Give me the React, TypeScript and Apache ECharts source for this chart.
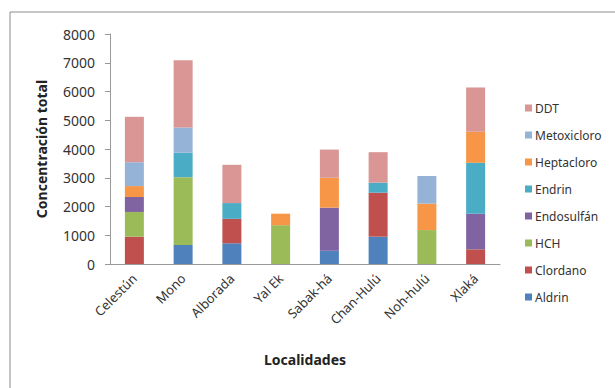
import React, { useEffect, useRef } from "react";
import * as echarts from "echarts";

const categories = ["Celestún", "Mono", "Alborada", "Yal Ek", "Sabak-há", "Chan-Hulú", "Noh-hulú", "Xlaká"];
const seriesNames = ["Aldrin", "Clordano", "HCH", "Endosulfán", "Endrin", "Heptacloro", "Metoxicloro", "DDT"];
const aldrin = [0, 660, 720, 0, 460, 950, 0, 0];
const clordano = [950, 0, 850, 0, 0, 1530, 0, 510];
const hch = [860, 2360, 0, 1350, 0, 0, 1180, 0];
const endosulfan = [520, 0, 0, 0, 1500, 0, 0, 1240];
const endrin = [0, 850, 550, 0, 0, 350, 0, 1770];
const heptacloro = [380, 0, 0, 400, 1040, 0, 920, 1080];
const metoxicloro = [830, 880, 0, 0, 0, 0, 960, 0];
const ddt = [1580, 2340, 1330, 0, 980, 1060, 0, 1540];
const colors = ["#4F81BD", "#C0504D", "#9BBB59", "#8064A2", "#4BACC6", "#F79646", "#95B3D7", "#D99694"];
const yTicks = [0, 1000, 2000, 3000, 4000, 5000, 6000, 7000, 8000];

export default function App() {
  const ref = useRef<HTMLDivElement>(null);
  useEffect(() => {
    if (!ref.current) return;
    const chart = echarts.init(ref.current, null, { renderer: "svg" });
    const values = [aldrin, clordano, hch, endosulfan, endrin, heptacloro, metoxicloro, ddt];
    const font = "'Noto Sans', sans-serif";
    chart.setOption({
      animation: false,
      backgroundColor: "#ffffff",
      graphic: [
        {
          type: "rect",
          shape: { x: 10, y: 12, width: 640, height: 420 },
          style: { fill: "none", stroke: "#8c8c8c", lineWidth: 1 },
          silent: true,
        },
      ],
      grid: { left: 110, top: 34, width: 390, height: 230 },
      legend: {
        orient: "vertical",
        left: 520,
        top: 97,
        itemWidth: 7,
        itemHeight: 7,
        itemGap: 15,
        itemStyle: { borderWidth: 0 },
        icon: "rect",
        data: seriesNames.slice().reverse(),
        textStyle: { fontFamily: font, fontSize: 12, color: "#333", padding: [0, 0, 0, -2] },
      },
      xAxis: {
        type: "category",
        data: categories,
        name: "Localidades",
        nameLocation: "middle",
        nameGap: 88,
        nameTextStyle: { fontFamily: font, fontSize: 14, fontWeight: "bold", color: "#222" },
        axisLine: { lineStyle: { color: "#999" } },
        axisTick: { show: false },
        axisLabel: { rotate: 45, margin: 12, fontFamily: font, fontSize: 13, color: "#333" },
      },
      yAxis: {
        type: "value",
        min: 0,
        max: yTicks[yTicks.length - 1],
        interval: 1000,
        name: "Concentración total",
        nameLocation: "middle",
        nameGap: 62,
        nameTextStyle: { fontFamily: font, fontSize: 14, fontWeight: "bold", color: "#222" },
        axisLine: { show: true, lineStyle: { color: "#999" } },
        axisTick: { show: true, length: 5, lineStyle: { color: "#999" } },
        splitLine: { show: false },
        axisLabel: {
          margin: 15,
          fontFamily: font,
          fontSize: 14,
          color: "#333",
          formatter: (v: number) => String(v),
        },
      },
      series: seriesNames.map((name, i) => ({
        name,
        type: "bar",
        stack: "total",
        barWidth: 19,
        itemStyle: { color: colors[i] },
        data: values[i],
      })),
    });
    return () => chart.dispose();
  }, []);
  return <div ref={ref} style={{ position: "fixed", left: 0, top: 0, width: 615, height: 388 }} />;
}
